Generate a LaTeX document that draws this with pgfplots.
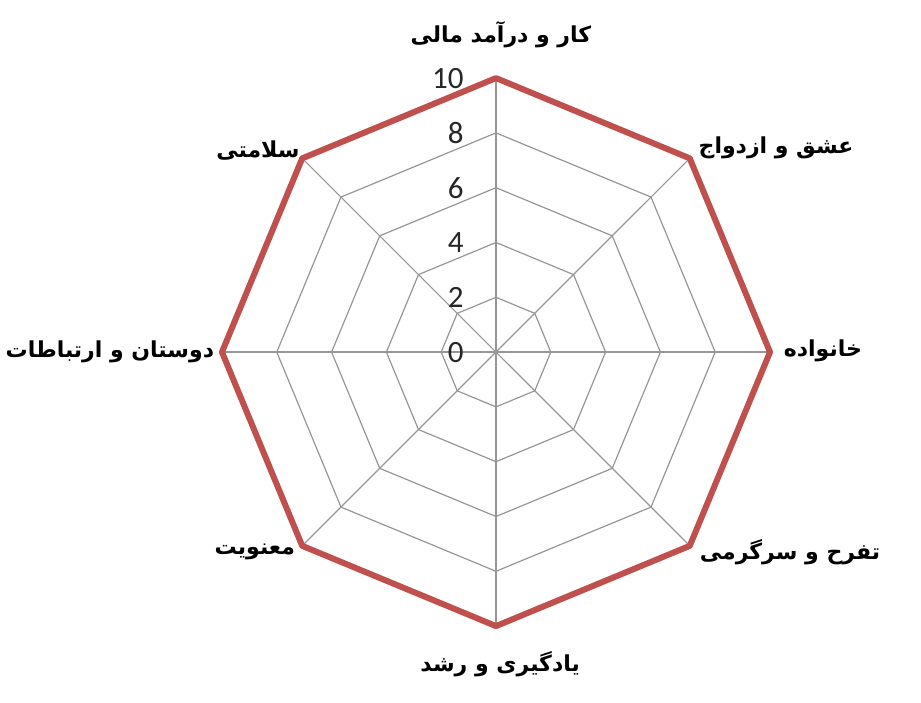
\documentclass[border=0pt]{standalone}
\usepackage{pgfplots}
\pgfplotsset{compat=1.18}
\usepackage{fontspec}
\setmainfont{Carlito}
\newfontfamily\fa[Script=Arabic]{DejaVu Sans}
\TeXXeTstate=1
\definecolor{radarred}{RGB}{192,80,77}
\definecolor{gridgray}{RGB}{150,150,150}
\newcommand{\lbl}[1]{{\fa\bfseries\fontsize{11}{13}\selectfont\beginR #1\endR}}

\begin{document}
\begin{tikzpicture}[
    ticklbl/.style={anchor=east, font=\fontsize{15.5}{17}\selectfont, text=black!85, inner sep=0pt},
]
\begin{axis}[
    name=ax,
    scale only axis,
    width=460.5pt, height=351pt,
    xmin=-18.10, xmax=15.51,
    ymin=-12.77, ymax=12.85,
    hide axis,
    clip=false,
]
% spokes
\addplot[gridgray, line width=0.6pt, data cs=polar] coordinates {(90,10)(270,10)};
\addplot[gridgray, line width=0.6pt, data cs=polar] coordinates {(45,10)(225,10)};
\addplot[gridgray, line width=0.6pt, data cs=polar] coordinates {(0,10)(180,10)};
\addplot[gridgray, line width=0.6pt, data cs=polar] coordinates {(135,10)(315,10)};

% octagonal grid
\addplot[gridgray, line width=0.6pt, data cs=polar] coordinates {(90,2)(45,2)(0,2)(-45,2)(-90,2)(-135,2)(180,2)(135,2)} -- cycle;
\addplot[gridgray, line width=0.6pt, data cs=polar] coordinates {(90,4)(45,4)(0,4)(-45,4)(-90,4)(-135,4)(180,4)(135,4)} -- cycle;
\addplot[gridgray, line width=0.6pt, data cs=polar] coordinates {(90,6)(45,6)(0,6)(-45,6)(-90,6)(-135,6)(180,6)(135,6)} -- cycle;
\addplot[gridgray, line width=0.6pt, data cs=polar] coordinates {(90,8)(45,8)(0,8)(-45,8)(-90,8)(-135,8)(180,8)(135,8)} -- cycle;

% radial tick labels
\node[ticklbl] at (axis cs:-1.17,0) {0};
\node[ticklbl] at (axis cs:-1.17,2) {2};
\node[ticklbl] at (axis cs:-1.17,4) {4};
\node[ticklbl] at (axis cs:-1.17,6) {6};
\node[ticklbl] at (axis cs:-1.17,8) {8};
\node[ticklbl] at (axis cs:-1.17,10) {10};

% data series
\addplot[radarred, line width=3pt, line join=round, data cs=polar] coordinates {
    (90,10) (45,10) (0,10) (-45,10) (-90,10) (-135,10) (180,10) (135,10)
} -- cycle;

% category labels
\node at (axis cs:0.18,11.57)  {\lbl{کار و درآمد مالی}};
\node at (axis cs:10.22,7.45)  {\lbl{عشق و ازدواج}};
\node at (axis cs:11.93,0.05)  {\lbl{خانواده}};
\node at (axis cs:10.73,-7.30) {\lbl{تفرح و سرگرمی}};
\node at (axis cs:0.15,-11.39) {\lbl{یادگیری و رشد}};
\node at (axis cs:-8.80,-7.30) {\lbl{معنویت}};
\node at (axis cs:-14.09,0)    {\lbl{دوستان و ارتباطات}};
\node at (axis cs:-8.69,7.37)  {\lbl{سلامتی}};
\end{axis}
\pgfresetboundingbox
\path (ax.south west) rectangle (ax.north east);
\end{tikzpicture}
\end{document}
